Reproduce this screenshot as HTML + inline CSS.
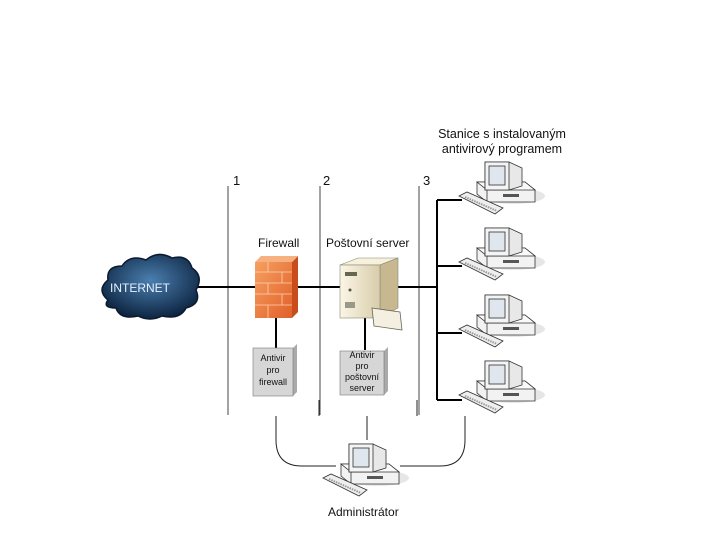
<!DOCTYPE html>
<html><head><meta charset="utf-8"><style>
body{margin:0;background:#fff}
svg{display:block}
text{font-family:"Liberation Sans",sans-serif;fill:#111}
</style></head><body>
<svg width="720" height="540" viewBox="0 0 720 540">
<defs>
<linearGradient id="fw" x1="0" y1="0" x2="1" y2="1"><stop offset="0" stop-color="#f6a060"/><stop offset="1" stop-color="#e0602a"/></linearGradient>
<linearGradient id="sv" x1="0" y1="0" x2="1" y2="0"><stop offset="0" stop-color="#fbf6e6"/><stop offset="1" stop-color="#d8ccaa"/></linearGradient>
<radialGradient id="cl" cx="0.5" cy="0.4" r="0.6"><stop offset="0" stop-color="#4a7fb0"/><stop offset="1" stop-color="#0d2440"/></radialGradient>
<g id="pc">
<ellipse cx="28" cy="36" rx="32" ry="8" fill="#e6e6e6"/>
<polygon points="-8,22 40,22 50,30 50,42 2,42 -8,34" fill="#f2f2f2" stroke="#333" stroke-width="0.8"/>
<polygon points="-8,22 40,22 50,30 2,30" fill="#fafafa" stroke="#333" stroke-width="0.8"/>
<line x1="2" y1="30" x2="2" y2="42" stroke="#333" stroke-width="0.8"/>
<rect x="18" y="34" width="16" height="3" fill="#555"/>
<polygon points="0,2 24,2 37,8 37,26 24,30 0,30" fill="#e8e8e8" stroke="#333" stroke-width="0.8"/>
<polygon points="0,2 24,2 24,30 0,30" fill="#f4f4f4" stroke="#333" stroke-width="0.8"/>
<rect x="4" y="6" width="16" height="19" fill="#dfe6ee" stroke="#333" stroke-width="0.8"/>
<polygon points="-26,36 -18,32 18,48 10,54" fill="#eee" stroke="#333" stroke-width="0.8"/>
<line x1="-20" y1="37" x2="12" y2="51" stroke="#999" stroke-width="2" stroke-dasharray="1.5 1"/>
</g>
</defs>
<!-- separators -->
<g stroke="#444" stroke-width="1">
<line x1="228" y1="186" x2="228" y2="415"/>
<line x1="320" y1="186" x2="320" y2="415"/>
<line x1="419" y1="186" x2="419" y2="415"/>
</g>
<text x="233" y="185" font-size="13">1</text>
<text x="323" y="185" font-size="13">2</text>
<text x="423" y="185" font-size="13">3</text>
<!-- main line & bus -->
<g stroke="#000" stroke-width="2" fill="none">
<line x1="195" y1="287" x2="437" y2="287"/>
<line x1="437" y1="200" x2="437" y2="400"/>
<line x1="437" y1="200" x2="462" y2="200"/>
<line x1="437" y1="266" x2="462" y2="266"/>
<line x1="437" y1="333" x2="462" y2="333"/>
<line x1="437" y1="400" x2="462" y2="400"/>
<line x1="276" y1="315" x2="276" y2="348"/>
<line x1="365" y1="315" x2="365" y2="350"/>
</g>
<!-- admin connections -->
<g stroke="#222" stroke-width="1" fill="none">
<line x1="319" y1="400" x2="319" y2="416"/>
<line x1="417" y1="400" x2="417" y2="416"/>
<line x1="367" y1="416" x2="367" y2="440"/>
<path d="M276 416 V440 Q276 466 302 466 H336"/>
<path d="M400 466 H440 Q465 466 465 440 V416"/>
<line x1="275" y1="400" x2="275" y2="416" stroke-width="0"/>
</g>
<!-- cloud -->
<path d="M108 300 Q96 290 108 280 Q106 266 122 266 Q130 254 146 260 Q158 250 172 258 Q188 254 192 268 Q204 276 196 290 Q202 304 186 308 Q180 320 162 316 Q150 322 138 316 Q120 320 116 308 Q102 308 108 300Z" fill="url(#cl)" stroke="#0a1a30" stroke-width="1.5"/>
<text x="110" y="292" font-size="12" fill="#eef" style="fill:#e8f0ff">INTERNET</text>
<!-- firewall -->
<polygon points="255,262 292,262 298,256 298,312 292,318 255,318" fill="#c84c1c"/>
<polygon points="255,262 292,262 298,256 261,256" fill="#f7b080"/>
<rect x="255" y="262" width="37" height="56" fill="url(#fw)"/>
<g stroke="#ffd0b0" stroke-width="0.8">
<line x1="255" y1="272" x2="292" y2="272"/><line x1="255" y1="283" x2="292" y2="283"/><line x1="255" y1="294" x2="292" y2="294"/><line x1="255" y1="305" x2="292" y2="305"/>
<line x1="268" y1="262" x2="268" y2="272"/><line x1="282" y1="272" x2="282" y2="283"/><line x1="268" y1="283" x2="268" y2="294"/><line x1="282" y1="294" x2="282" y2="305"/><line x1="268" y1="305" x2="268" y2="318"/>
</g>
<text x="258" y="247" font-size="12">Firewall</text>
<text x="326" y="247" font-size="12">Poštovní server</text>
<!-- server -->
<polygon points="340,265 358,258 398,258 380,265" fill="#f6f0dc" stroke="#887" stroke-width="0.6"/>
<polygon points="380,265 398,258 398,308 380,318" fill="#c8b890" stroke="#887" stroke-width="0.6"/>
<rect x="340" y="265" width="40" height="53" fill="url(#sv)" stroke="#887" stroke-width="0.6"/>
<rect x="345" y="272" width="12" height="4" fill="#665"/>
<circle cx="350" cy="290" r="1.5" fill="#554"/>
<rect x="345" y="302" width="10" height="6" fill="#998"/>
<polygon points="372,308 400,312 402,330 374,326" fill="#f4efe0" stroke="#665" stroke-width="0.8"/>
<!-- antivir boxes -->
<polygon points="253,348 293,348 297,344 297,392 293,396 253,396" fill="#aaa"/>
<rect x="253" y="348" width="40" height="48" fill="#d6d6d6" stroke="#777" stroke-width="0.6"/>
<text font-size="9" text-anchor="middle"><tspan x="273" y="361">Antivir</tspan><tspan x="273" y="373">pro</tspan><tspan x="273" y="385">firewall</tspan></text>
<polygon points="340,351 384,351 388,347 388,391 384,395 340,395" fill="#aaa"/>
<rect x="340" y="351" width="44" height="44" fill="#d6d6d6" stroke="#777" stroke-width="0.6"/>
<text font-size="9" text-anchor="middle"><tspan x="362" y="358">Antivir</tspan><tspan x="362" y="369">pro</tspan><tspan x="362" y="380">poštovní</tspan><tspan x="362" y="391">server</tspan></text>
<!-- stations -->
<text font-size="12.5" text-anchor="middle"><tspan x="502" y="138">Stanice s instalovaným</tspan><tspan x="502" y="153">antivirový programem</tspan></text>
<use href="#pc" x="485" y="160"/>
<use href="#pc" x="485" y="226"/>
<use href="#pc" x="485" y="293"/>
<use href="#pc" x="485" y="359"/>
<use href="#pc" x="349" y="442"/>
<text x="328" y="516" font-size="12">Administrátor</text>
</svg>
</body></html>
